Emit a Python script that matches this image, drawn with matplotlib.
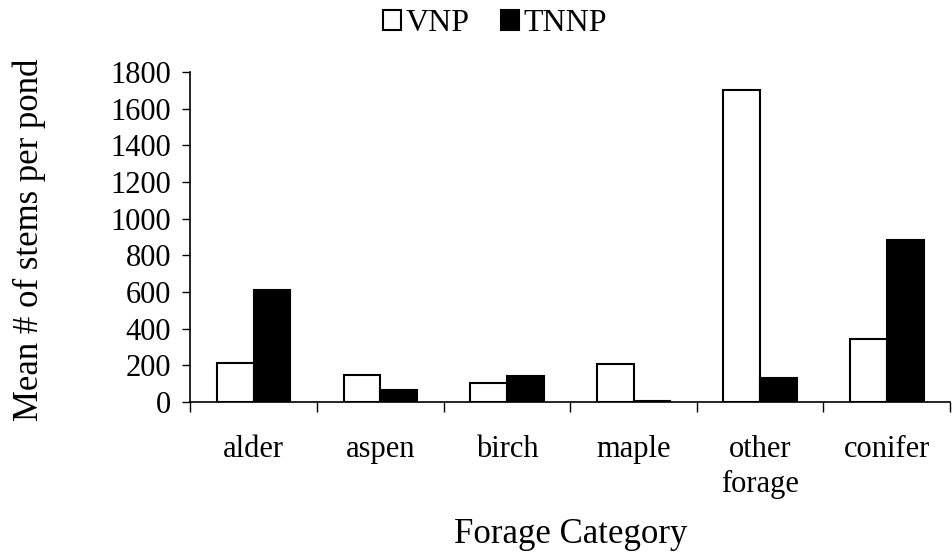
import matplotlib
matplotlib.use('Agg')
import matplotlib.pyplot as plt
import numpy as np

plt.rcParams['font.family'] = ['Liberation Serif', 'DejaVu Serif']

categories = ['alder', 'aspen', 'birch', 'maple', 'other\nforage', 'conifer']
vnp = [215, 148, 103, 210, 1700, 345]
tnnp = [610, 67, 142, 4, 130, 882]
yticks = [0, 200, 400, 600, 800, 1000, 1200, 1400, 1600, 1800]

fig = plt.figure(figsize=(9.52, 5.53), dpi=100)
ax = fig.add_axes([0.2, 0.273, 0.798, 0.597])

x = np.arange(len(categories))
w = 0.29
ax.bar(x - w / 2, vnp, w, color='white', edgecolor='black', linewidth=1.5, label='VNP')
ax.bar(x + w / 2, tnnp, w, color='black', edgecolor='black', linewidth=1.5, label='TNNP')

ax.set_xlim(-0.5, len(categories) - 0.5)
ax.set_ylim(0, 1800)
ax.set_yticks(yticks)
ax.set_xticks(x)
ax.set_xticklabels(categories, fontsize=22, linespacing=1.25)
ax.set_xticks(np.arange(len(categories) + 1) - 0.5, minor=True)
ax.tick_params(axis='x', which='major', length=0, pad=24)
ax.tick_params(axis='x', which='minor', length=7, width=1, direction='out')
ax.tick_params(axis='y', labelsize=22, length=6, width=1, direction='out', pad=8)

for s in ['top', 'right']:
    ax.spines[s].set_visible(False)
ax.spines['left'].set_linewidth(1.2)
ax.spines['bottom'].set_linewidth(1.2)

ax.set_ylabel('Mean # of stems per pond', fontsize=25)
ax.yaxis.set_label_coords(-0.19, 0.49)
ax.set_xlabel('Forage Category', fontsize=25, labelpad=14)

fig.legend(loc='upper center', bbox_to_anchor=(0.52, 1.035), ncol=2, frameon=False,
           fontsize=23, handlelength=0.55, handleheight=0.55, handletextpad=0.15,
           columnspacing=1.0)

fig.savefig('out.png', dpi=100)
